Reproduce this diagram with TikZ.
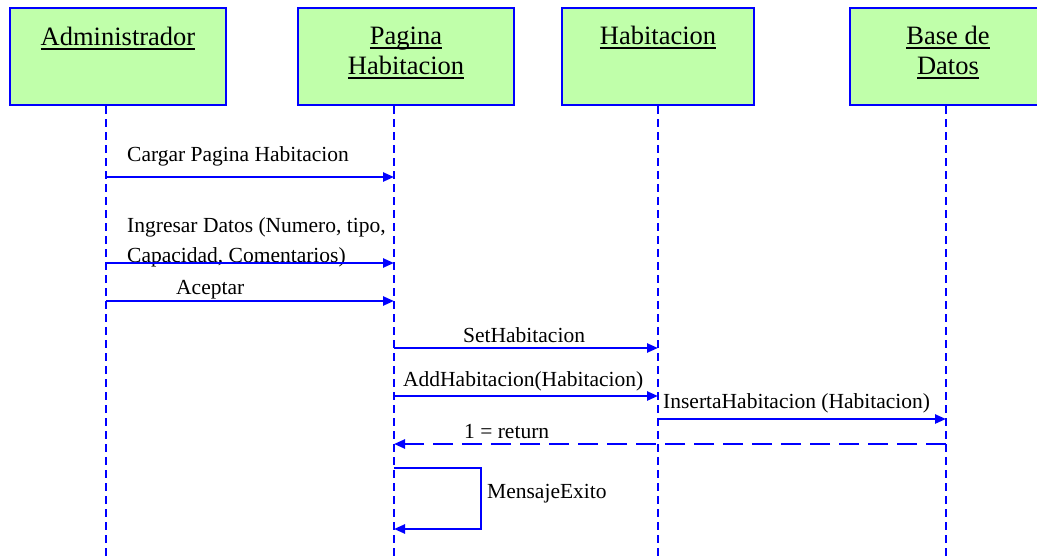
\documentclass[tikz,border=0pt]{standalone}
\usepackage{fontspec}
\setmainfont{Liberation Serif}
\usetikzlibrary{positioning,arrows.meta}
\definecolor{boxgreen}{RGB}{192,255,170}
\newcommand{\ulword}[1]{\setbox0\hbox{#1}\rlap{\rule[-4.5pt]{\wd0}{2pt}}\box0}

\tikzset{
  objbox/.style={draw=blue,fill=boxgreen,line width=2pt,minimum height=97pt,inner sep=0pt},
  objname/.style={inner sep=0pt,anchor=base,align=center,font=\fontsize{26.5}{30}\selectfont},
  lifeline/.style={blue,line width=1.8pt,dash pattern=on 8pt off 5pt},
  msg/.style={blue,line width=2.4pt,-{Triangle[length=11pt,width=9pt]}},
  reply/.style={msg,dash pattern=on 20pt off 9pt},
  lbl/.style={inner sep=0pt,anchor=base west,align=left,font=\fontsize{21.5}{30}\selectfont}
}

\begin{document}
\begin{tikzpicture}[x=1pt,y=-1pt]
\useasboundingbox (0,0) rectangle (1037,557);
% lifelines
\foreach \x/\n in {106/adm,394/pag,658/hab,946/bd}
	\draw[lifeline] (\x,106) coordinate (\n) -- (\x,557);
% objects
\node[objbox,minimum width=216pt] (admbox) at (118,56.5) {};
\node[objbox,minimum width=216pt] (pagbox) at (406,56.5) {};
\node[objbox,minimum width=192pt] (habbox) at (658,56.5) {};
\node[objbox,minimum width=192pt] (bdbox) at (946,56.5) {};
\node[objname] (admtxt) at (118,45) {\ulword{Administrador}};
\node[objname] (pagtxt) at (406,74) {\ulword{Pagina}\\\ulword{Habitacion}};
\node[objname] (habtxt) at (658,44) {\ulword{Habitacion}};
\node[objname] (bdtxt) at (948,74) {\ulword{Base de}\\\ulword{Datos}};
% messages
\node[lbl] (m1) at (127,161) {Cargar Pagina Habitacion};
\draw[msg] (adm |- 0,177) -- (pag |- 0,177);
\node[lbl] (m2) at (127,262) {Ingresar Datos (Numero, tipo,\\Capacidad, Comentarios)};
\draw[msg] (adm |- 0,263) -- (pag |- 0,263);
\node[lbl] (m3) at (176,294) {Aceptar};
\draw[msg] (adm |- 0,301) -- (pag |- 0,301);
\node[lbl] (m4) at (463,342) {SetHabitacion};
\draw[msg] (pag |- 0,348) -- (hab |- 0,348);
\node[lbl] (m5) at (403,386) {AddHabitacion(Habitacion)};
\draw[msg] (pag |- 0,396) -- (hab |- 0,396);
\node[lbl] (m6) at (663,408) {InsertaHabitacion (Habitacion)};
\draw[msg] (hab |- 0,419) -- (bd |- 0,419);
\node[lbl] (m7) at (464,438) {1 = return};
\draw[reply] (bd |- 0,444) -- (pag |- 0,444);
\node[lbl] (m8) at (487,498) {MensajeExito};
\draw[msg] (pag |- 0,468) -| ([xshift=87pt]pag |- 0,529) -- (pag |- 0,529);
\end{tikzpicture}
\end{document}
